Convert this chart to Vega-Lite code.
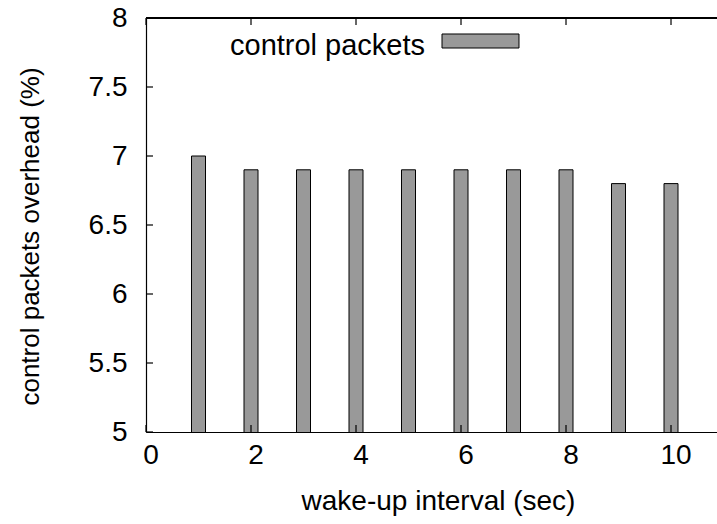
{
  "$schema": "https://vega.github.io/schema/vega-lite/v6.json",
  "width": 571,
  "height": 414,
  "autosize": {"type": "none"},
  "padding": {"left": 146, "top": 18, "right": 0, "bottom": 92},
  "background": "white",
  "config": {
    "view": {"stroke": null},
    "font": "Liberation Sans",
    "axis": {
      "grid": false,
      "ticks": false,
      "labelFlush": false,
      "domainColor": "black",
      "domainWidth": 1.2,
      "labelFont": "Liberation Sans",
      "labelFontSize": 28,
      "labelColor": "black",
      "titleFont": "Liberation Sans",
      "titleFontSize": 28,
      "titleFontWeight": "normal",
      "titleColor": "black"
    },
    "legend": {
      "titleFont": "Liberation Sans",
      "titleFontSize": 29,
      "titleFontWeight": "normal",
      "titleColor": "black"
    }
  },
  "datasets": {
    "overhead": [
      {"interval": 1, "overhead": 7.0, "series": "control packets"},
      {"interval": 2, "overhead": 6.9, "series": "control packets"},
      {"interval": 3, "overhead": 6.9, "series": "control packets"},
      {"interval": 4, "overhead": 6.9, "series": "control packets"},
      {"interval": 5, "overhead": 6.9, "series": "control packets"},
      {"interval": 6, "overhead": 6.9, "series": "control packets"},
      {"interval": 7, "overhead": 6.9, "series": "control packets"},
      {"interval": 8, "overhead": 6.9, "series": "control packets"},
      {"interval": 9, "overhead": 6.8, "series": "control packets"},
      {"interval": 10, "overhead": 6.8, "series": "control packets"}
    ],
    "xticks": [
      {"tick": 0}, {"tick": 2}, {"tick": 4}, {"tick": 6}, {"tick": 8}, {"tick": 10}
    ],
    "yticks": [
      {"tick": 5}, {"tick": 5.5}, {"tick": 6}, {"tick": 6.5}, {"tick": 7}, {"tick": 7.5}, {"tick": 8}
    ]
  },
  "layer": [
    {
      "data": {"name": "overhead"},
      "mark": {"type": "bar", "width": 14, "stroke": "black", "strokeWidth": 1, "clip": true},
      "encoding": {
        "x": {
          "field": "interval",
          "type": "quantitative",
          "scale": {"domain": [0, 10.876], "nice": false, "zero": false, "padding": 0},
          "axis": {
            "orient": "bottom",
            "values": [0, 2, 4, 6, 8, 10],
            "labelPadding": 9,
            "labelOffset": 4.5,
            "labelBaseline": "top",
            "title": "wake-up interval (sec)",
            "titleX": 292,
            "titleY": 77,
            "titleAlign": "center",
            "titleBaseline": "alphabetic"
          }
        },
        "y": {
          "field": "overhead",
          "type": "quantitative",
          "scale": {"domain": [5, 8], "nice": false, "zero": false, "padding": 0},
          "axis": {
            "values": [5, 5.5, 6, 6.5, 7, 7.5, 8],
            "format": "~g",
            "labelPadding": 19,
            "title": "control packets overhead (%)",
            "titleFontSize": 26,
            "titleAngle": 270,
            "titleX": -108,
            "titleY": 218,
            "titleAlign": "center",
            "titleBaseline": "alphabetic"
          }
        },
        "fill": {
          "field": "series",
          "type": "nominal",
          "scale": {"range": ["#999999"]},
          "legend": {
            "orient": "none",
            "legendX": 84,
            "legendY": -5,
            "title": "control packets",
            "titleOrient": "left",
            "titleBaseline": "top",
            "titleLimit": 400,
            "titlePadding": 26.5,
            "labelExpr": "''",
            "labelOffset": 0,
            "symbolType": "M-1.405,-0.2555L1.405,-0.2555L1.405,0.2555L-1.405,0.2555Z",
            "symbolSize": 3003,
            "symbolStrokeColor": "black",
            "symbolStrokeWidth": 1,
            "padding": 0
          }
        }
      }
    },
    {
      "data": {"name": "overhead"},
      "mark": {"type": "rule", "color": "black", "strokeWidth": 1.2},
      "encoding": {"y": {"datum": 8}}
    },
    {
      "data": {"name": "xticks"},
      "mark": {"type": "rule", "color": "black", "strokeWidth": 1.2},
      "encoding": {
        "x": {"field": "tick", "type": "quantitative"},
        "y": {"datum": 5},
        "y2": {"datum": 5.0507}
      }
    },
    {
      "data": {"name": "xticks"},
      "mark": {"type": "rule", "color": "black", "strokeWidth": 1.2},
      "encoding": {
        "x": {"field": "tick", "type": "quantitative"},
        "y": {"datum": 8},
        "y2": {"datum": 7.9493}
      }
    },
    {
      "data": {"name": "yticks"},
      "mark": {"type": "rule", "color": "black", "strokeWidth": 1.2},
      "encoding": {
        "y": {"field": "tick", "type": "quantitative"},
        "x": {"datum": 0},
        "x2": {"datum": 0.1333}
      }
    }
  ]
}
